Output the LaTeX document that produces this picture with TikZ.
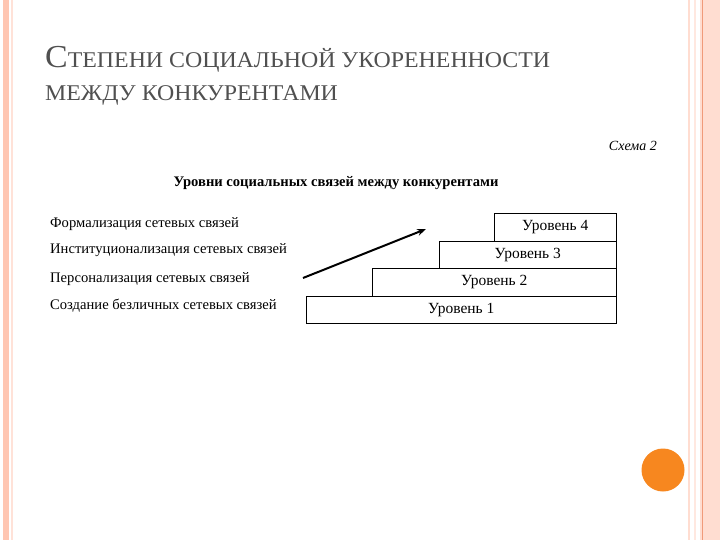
\documentclass[tikz,border=0pt]{standalone}
\usepackage{fontspec}
\setmainfont{Liberation Serif}
\usetikzlibrary{arrows.meta}
\definecolor{salmon}{HTML}{FFC6B2}
\definecolor{rust}{HTML}{F09A7A}
\definecolor{ochre}{HTML}{F7871F}
\definecolor{titlegray}{HTML}{505050}
\tikzset{
  lvl/.style={draw, line width=1.4pt, minimum height=27.5pt, anchor=north east,
    inner sep=0pt, font=\fontsize{15.5}{17}\selectfont},
  factor/.style={anchor=base west, inner sep=0pt, font=\fontsize{14.6}{16}\selectfont},
  titleline/.style={anchor=base west, inner sep=0pt, text=titlegray, xscale=1.06, transform shape},
}
\begin{document}
\begin{tikzpicture}[x=1pt,y=-1pt]
  \useasboundingbox (0,0) rectangle (720,540);
  % frame stripes
  \fill[salmon] (3,0) rectangle (9,540);
  \fill[salmon!50] (11,0) rectangle (12.5,540);
  \fill[salmon!60] (700,0) rectangle (720,540);
  \fill[rust] (701.5,0) rectangle (703,540);
  \fill[salmon!60] (688,0) rectangle (690,540);
  \fill[salmon!40] (694,0) rectangle (695.5,540);
  % title
  \node[titleline] (title1) at (45,68)
    {\fontsize{32}{32}\selectfont С\fontsize{22.5}{22}\selectfont ТЕПЕНИ СОЦИАЛЬНОЙ УКОРЕНЕННОСТИ};
  \node[titleline] (title2) at (45,101)
    {\fontsize{22.5}{22}\selectfont МЕЖДУ КОНКУРЕНТАМИ};
  % scheme caption
  \node[anchor=base east, inner sep=0pt, font=\fontsize{14}{16}\selectfont\itshape] (scheme) at (657,151) {Схема 2};
  \node[anchor=base, inner sep=0pt, font=\fontsize{14.6}{16}\selectfont\bfseries] (head) at (336,187)
    {Уровни социальных связей между конкурентами};
  % factors
  \node[factor] (f4) at (50,227) {Формализация сетевых связей};
  \node[factor] (f3) at (50,254) {Институционализация сетевых связей};
  \node[factor] (f2) at (50,282) {Персонализация сетевых связей};
  \node[factor] (f1) at (50,309) {Создание безличных сетевых связей};
  % steps
  \node[lvl, minimum width=310pt] (l1) at (617,295.5) {Уровень 1};
  \node[lvl, minimum width=244pt] (l2) at (617,268) {Уровень 2};
  \node[lvl, minimum width=177pt] (l3) at (617,240.5) {Уровень 3};
  \node[lvl, minimum width=122pt] (l4) at (617,213) {Уровень 4};
  \coordinate (a0) at (303,278);
  \coordinate (a1) at (426,229);
  \draw[line width=2pt, -{Stealth[length=9pt,width=7pt]}] (a0) -- (a1);
  % dot
  \fill[ochre] (663,470) circle (21.5);
\end{tikzpicture}
\end{document}
